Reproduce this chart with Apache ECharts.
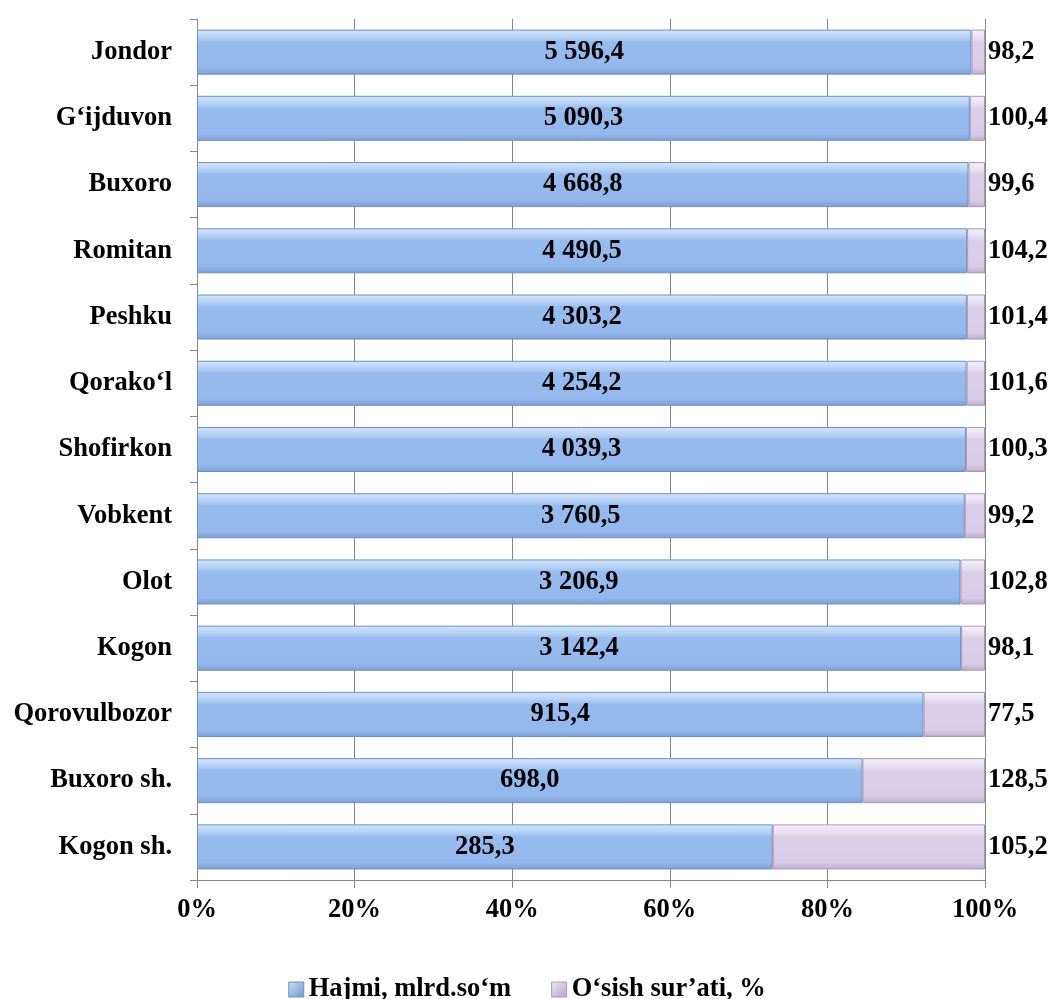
<!DOCTYPE html>
<html><head><meta charset="utf-8">
<script src="https://cdn.jsdelivr.net/npm/echarts@6/dist/echarts.min.js"></script>
<style>html,body{margin:0;padding:0;background:#fff}#c{width:1054px;height:999px}</style>
</head><body><div id="c"></div>
<script>
const categories = ['Kogon sh.','Buxoro sh.','Qorovulbozor','Kogon','Olot','Vobkent','Shofirkon','Qorako‘l','Peshku','Romitan','Buxoro','G‘ijduvon','Jondor'];
const hajmi = [285.3, 698.0, 915.4, 3142.4, 3206.9, 3760.5, 4039.3, 4254.2, 4303.2, 4490.5, 4668.8, 5090.3, 5596.4];
const osish = [105.2, 128.5, 77.5, 98.1, 102.8, 99.2, 100.3, 101.6, 101.4, 104.2, 99.6, 100.4, 98.2];
const xTicks = ['0%','20%','40%','60%','80%','100%'];
const seriesNames = ['Hajmi, mlrd.so‘m', 'O‘sish sur’ati, %'];

function fmt(v){
  const s = v.toFixed(1).split('.');
  const int = s[0].replace(/\B(?=(\d{3})+(?!\d))/g, ' ');
  return int + ',' + s[1];
}
const totals = hajmi.map((v,i)=>v+osish[i]);
const share1 = hajmi.map((v,i)=>({value: v/totals[i]*100, raw: v}));
const share2 = osish.map((v,i)=>({value: v/totals[i]*100, raw: v}));

const font = '"Liberation Serif", "Times New Roman", serif';
const FS = 26.5;
const blueGrad = new echarts.graphic.LinearGradient(0,0,0,1,[
  {offset:0,color:'#d4e6fb'},{offset:0.2,color:'#aecdf4'},{offset:0.28,color:'#97bbee'},{offset:0.85,color:'#93b8ed'},{offset:1,color:'#7f9fd0'}]);
const purpleGrad = new echarts.graphic.LinearGradient(0,0,0,1,[
  {offset:0,color:'#f5f0f9'},{offset:0.2,color:'#e6ddf0'},{offset:0.28,color:'#dbcfe8'},{offset:0.85,color:'#d8cbe6'},{offset:1,color:'#bcaecb'}]);
const blueIcon = new echarts.graphic.LinearGradient(0,0,1,1,[{offset:0,color:'#c9def8'},{offset:1,color:'#6f95cf'}]);
const purpleIcon = new echarts.graphic.LinearGradient(0,0,1,1,[{offset:0,color:'#eee7f5'},{offset:1,color:'#b3a5c5'}]);

const chart = echarts.init(document.getElementById('c'));
chart.setOption({
  animation:false,
  grid:{left:197,right:69,top:19,bottom:119,containLabel:false},
  legend:{
    top:971, left:'center', itemWidth:15, itemHeight:15, itemGap:40,
    textStyle:{fontFamily:font,fontWeight:'bold',fontSize:FS,color:'#000'},
    data:[{name:seriesNames[0],icon:'rect',itemStyle:{color:blueIcon,borderColor:'#6f8fbf',borderWidth:1}},
          {name:seriesNames[1],icon:'rect',itemStyle:{color:purpleIcon,borderColor:'#a898b6',borderWidth:1}}]
  },
  xAxis:{
    type:'value', min:0, max:100, interval:20,
    axisLine:{show:true,lineStyle:{color:'#868686'}},
    axisTick:{show:true,length:8,lineStyle:{color:'#868686'}},
    splitLine:{show:true,lineStyle:{color:'#868686',width:1}},
    axisLabel:{formatter:(v)=>xTicks[Math.round(v/20)],fontFamily:font,fontWeight:'bold',fontSize:FS,color:'#000',margin:17}
  },
  yAxis:{
    type:'category', data:categories,
    axisLine:{show:true,lineStyle:{color:'#868686'}},
    axisTick:{show:true,length:7,lineStyle:{color:'#868686'}},
    axisLabel:{fontFamily:font,fontWeight:'bold',fontSize:FS,color:'#000',margin:25}
  },
  series:[
    {name:seriesNames[0],type:'bar',stack:'s',data:share1,barCategoryGap:'32%',
     itemStyle:{color:blueGrad,borderColor:'#6f8fbf',borderWidth:1},
     label:{show:true,position:'inside',formatter:(p)=>fmt(p.data.raw),fontFamily:font,fontWeight:'bold',fontSize:FS,color:'#000'}},
    {name:seriesNames[1],type:'bar',stack:'s',data:share2,
     itemStyle:{color:purpleGrad,borderColor:'#a898b6',borderWidth:1},
     label:{show:true,position:'right',distance:3,formatter:(p)=>fmt(p.data.raw),fontFamily:font,fontWeight:'bold',fontSize:FS,color:'#000'}}
  ]
});
</script></body></html>
